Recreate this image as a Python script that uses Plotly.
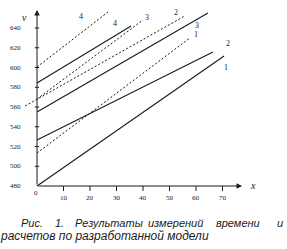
import plotly.graph_objects as go

# ---- data ----
solid_names = ["1", "2", "3", "4"]
solid_x0 = [0.0, 0.0, 0.0, 0.0]
solid_x1 = [70.6, 66.4, 64.5, 35.5]
solid_v0 = [480.0, 526.6, 554.9, 584.3]
solid_v1 = [611.6, 615.7, 655.2, 642.0]

dash_names = ["1", "2", "3", "4"]
dash_x0 = [0.0, -4.5, 0.0, 0.0]
dash_x1 = [57.7, 55.8, 40.0, 26.8]
dash_v0 = [513.4, 561.0, 568.1, 600.5]
dash_v1 = [629.9, 652.2, 648.1, 656.2]

label_text = ["4", "4", "3", "2", "3", "1", "2", "1"]
label_x = [16.6, 29.4, 41.5, 52.5, 60.4, 60.0, 72.0, 71.3]
label_v = [652, 645, 651, 656, 643, 633, 624, 600.5]

x_ticks = [10, 20, 30, 40, 50, 60, 70]
v_ticks = [480, 500, 520, 540, 560, 580, 600, 620, 640]

caption_line1 = ["Рис.", "1.", "Результаты", "измерений", "времени", "и"]
caption_line2 = "расчетов по разработанной модели"

# ---- figure geometry (pixel mapping of the scanned plot) ----
W, H = 287, 249
PX0, PXS = 37.0, 2.65       # px of x=0, px per x unit
PY0, PYS = 186.0, 0.9875    # px of v=480, px per v unit
x_rng = [(0 - PX0) / PXS, (W - PX0) / PXS]
v_rng = [480 - (H - PY0) / PYS, 480 + PY0 / PYS]

ink = "#1a1a1a"
serif = "Liberation Serif, Times New Roman, serif"
fig = go.Figure()

for n, a, b, c, d in zip(solid_names, solid_x0, solid_x1, solid_v0, solid_v1):
    fig.add_trace(go.Scatter(x=[a, b], y=[c, d], mode="lines", name="изм. " + n,
                             line=dict(color=ink, width=1.1), showlegend=False))
for n, a, b, c, d in zip(dash_names, dash_x0, dash_x1, dash_v0, dash_v1):
    fig.add_trace(go.Scatter(x=[a, b], y=[c, d], mode="lines", name="расч. " + n,
                             line=dict(color=ink, width=1, dash="2px,2px"), showlegend=False))

ann = []
# line labels
for t, x, v in zip(label_text, label_x, label_v):
    ann.append(dict(x=x, y=v, xref="x", yref="y", text=t, showarrow=False,
                    font=dict(family=serif, size=8, color=ink)))
# axes with arrows
x_end = (242 - PX0) / PXS
v_end = 480 + (PY0 - 10) / PYS
ann.append(dict(x=x_end, y=480, ax=0, ay=480, xref="x", yref="y", axref="x", ayref="y",
                text="", showarrow=True, arrowhead=2, arrowsize=1.1, arrowwidth=1, arrowcolor=ink))
ann.append(dict(x=0, y=v_end, ax=0, ay=480, xref="x", yref="y", axref="x", ayref="y",
                text="", showarrow=True, arrowhead=2, arrowsize=1.1, arrowwidth=1, arrowcolor=ink))
ann.append(dict(x=(253 - PX0) / PXS, y=480 + 1, xref="x", yref="y", text="<i>x</i>",
                showarrow=False, font=dict(family=serif, size=10, color=ink)))
ann.append(dict(x=(24 - PX0) / PXS, y=480 + (PY0 - 17) / PYS, xref="x", yref="y", text="<i>v</i>",
                showarrow=False, font=dict(family=serif, size=10, color=ink)))

shapes = []
# y ticks and labels
for v in v_ticks:
    if v > 480:
        shapes.append(dict(type="line", xref="x", yref="y", x0=-0.8, x1=0.8, y0=v, y1=v,
                           line=dict(color=ink, width=1)))
    ann.append(dict(x=(23 - PX0) / PXS, y=v, xref="x", yref="y", text=str(v), showarrow=False,
                    xanchor="right", font=dict(family=serif, size=7, color=ink)))
# x ticks and labels
for xv in x_ticks:
    shapes.append(dict(type="line", xref="x", yref="y", x0=xv, x1=xv, y0=480, y1=475,
                       line=dict(color=ink, width=1)))
    ann.append(dict(x=xv, y=480 - 12 / PYS, xref="x", yref="y", text=str(xv), showarrow=False,
                    font=dict(family=serif, size=7, color=ink)))
ann.append(dict(x=-0.5, y=480 - 7 / PYS, xref="x", yref="y", text="0", showarrow=False,
                font=dict(family=serif, size=7, color=ink)))

# caption (first line justified word by word)
word_px = [21, 55, 75, 148, 216, 277]
for w, px in zip(caption_line1, word_px):
    ann.append(dict(x=px / W, y=1 - 223 / H, xref="paper", yref="paper", text="<i>" + w + "</i>",
                    showarrow=False, xanchor="left", yanchor="middle", xshift=-2,
                    font=dict(family="Liberation Sans", size=11, color=ink)))
ann.append(dict(x=0, y=1 - 236 / H, xref="paper", yref="paper", text="<i>" + caption_line2 + "</i>",
                showarrow=False, xanchor="left", yanchor="middle", xshift=-2,
                font=dict(family="Liberation Sans", size=12, color=ink)))

fig.update_layout(
    width=W, height=H, margin=dict(l=0, r=0, t=0, b=0),
    paper_bgcolor="white", plot_bgcolor="white",
    xaxis=dict(range=x_rng, visible=False, fixedrange=True),
    yaxis=dict(range=v_rng, visible=False, fixedrange=True),
    annotations=ann, shapes=shapes, showlegend=False,
)
fig.write_html("out.html", config={"displayModeBar": False})
